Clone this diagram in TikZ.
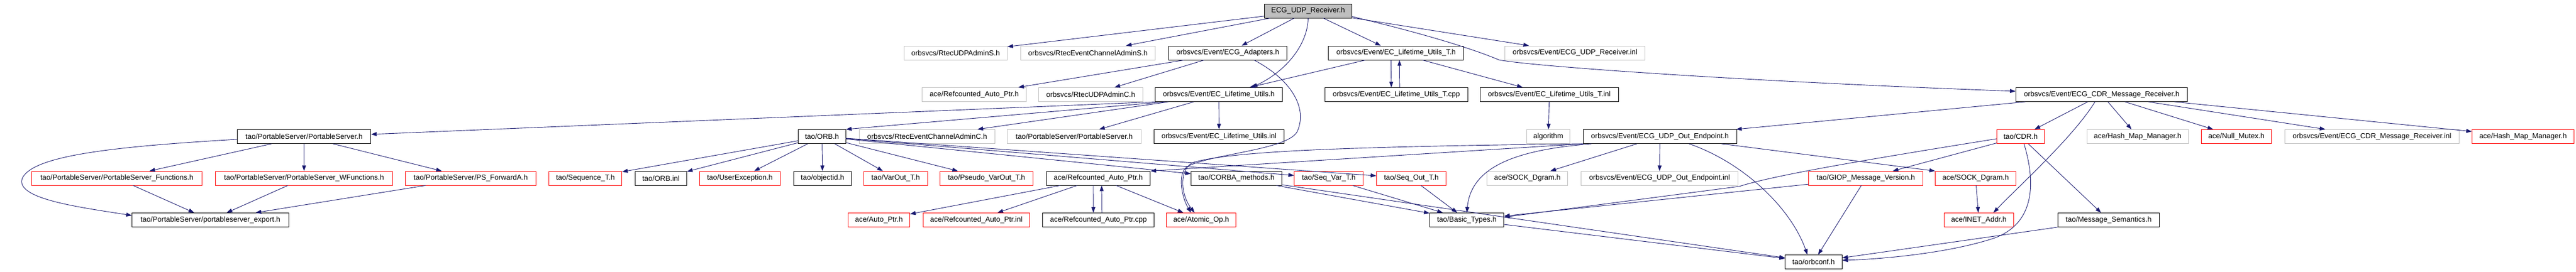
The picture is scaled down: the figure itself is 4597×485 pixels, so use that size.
\documentclass[tikz,border=0pt]{standalone}
\usepackage{fontspec}
\setmainfont{Liberation Sans}
\usetikzlibrary{arrows.meta}
\definecolor{edgeblue}{RGB}{25,25,112}
\definecolor{boxgray}{RGB}{191,191,191}
\tikzset{
  box/.style={rectangle, inner sep=0pt, minimum height=25pt, line width=0.9pt,
    font=\fontsize{13pt}{15pt}\selectfont, text=black},
  blkbox/.style={box, draw=black, fill=white},
  grybox/.style={box, draw=boxgray, fill=white},
  redbox/.style={box, draw=red, fill=white},
  rootbox/.style={box, draw=black, fill=boxgray},
  edge/.style={draw=edgeblue, line width=0.9pt, -{Triangle[length=10pt,width=7pt]}}
}
\newcommand\dnode[6]{\node[#2, minimum width=#5pt] (#1) at (#3,#4) {#6};}
\begin{document}
\begin{tikzpicture}[x=1pt,y=-1pt]
\useasboundingbox[fill=white] (0,0) rectangle (4597,485);
% row 0
\dnode{root}{rootbox}{2334.4}{19.5}{155.6}{ECG\_UDP\_Receiver.h}
% row 1
\dnode{udpS}{grybox}{1705.35}{94.5}{184.1}{orbsvcs/RtecUDPAdminS.h}
\dnode{ecS}{grybox}{1941.55}{94.5}{240.3}{orbsvcs/RtecEventChannelAdminS.h}
\dnode{adapters}{blkbox}{2191.05}{94.5}{210.7}{orbsvcs/Event/ECG\_Adapters.h}
\dnode{lutT}{blkbox}{2491.3}{94.5}{240.8}{orbsvcs/Event/EC\_Lifetime\_Utils\_T.h}
\dnode{rinl}{grybox}{2810.7}{94.5}{250}{orbsvcs/Event/ECG\_UDP\_Receiver.inl}
% row 2
\dnode{rapg}{grybox}{1738.5}{169}{186.2}{ace/Refcounted\_Auto\_Ptr.h}
\dnode{udpC}{grybox}{1946.45}{169}{185.7}{orbsvcs/RtecUDPAdminC.h}
\dnode{lut}{blkbox}{2175}{169}{226.6}{orbsvcs/Event/EC\_Lifetime\_Utils.h}
\dnode{lutTcpp}{blkbox}{2491.85}{169}{255.1}{orbsvcs/Event/EC\_Lifetime\_Utils\_T.cpp}
\dnode{lutTinl}{blkbox}{2764.8}{169}{247}{orbsvcs/Event/EC\_Lifetime\_Utils\_T.inl}
\dnode{cdrrecv}{blkbox}{3750.5}{169}{306.2}{orbsvcs/Event/ECG\_CDR\_Message\_Receiver.h}
% row 3
\dnode{ps}{blkbox}{542.6}{244}{238.2}{tao/PortableServer/PortableServer.h}
\dnode{orb}{blkbox}{1466.85}{244}{84.7}{tao/ORB.h}
\dnode{ecC}{grybox}{1654.55}{244}{242.1}{orbsvcs/RtecEventChannelAdminC.h}
\dnode{psg}{grybox}{1917.05}{244}{239.3}{tao/PortableServer/PortableServer.h}
\dnode{lutinl}{blkbox}{2175.5}{244}{231.6}{orbsvcs/Event/EC\_Lifetime\_Utils.inl}
\dnode{algo}{grybox}{2763}{244}{77}{algorithm}
\dnode{oep}{blkbox}{2962.25}{244}{273.5}{orbsvcs/Event/ECG\_UDP\_Out\_Endpoint.h}
\dnode{cdr}{redbox}{3605.9}{244}{85.2}{tao/CDR.h}
\dnode{hmmg}{grybox}{3814.75}{244}{181.5}{ace/Hash\_Map\_Manager.h}
\dnode{nullm}{redbox}{3990.95}{244}{124.9}{ace/Null\_Mutex.h}
\dnode{cdrinl}{grybox}{4232.95}{244}{311.1}{orbsvcs/Event/ECG\_CDR\_Message\_Receiver.inl}
\dnode{hmmr}{redbox}{4502.5}{244}{181.8}{ace/Hash\_Map\_Manager.h}
% row 4
\dnode{psf}{redbox}{208.65}{318.5}{304.1}{tao/PortableServer/PortableServer\_Functions.h}
\dnode{psw}{redbox}{542.6}{318.5}{315.8}{tao/PortableServer/PortableServer\_WFunctions.h}
\dnode{psfa}{redbox}{840.05}{318.5}{233.1}{tao/PortableServer/PS\_ForwardA.h}
\dnode{seqT}{redbox}{1044.65}{318.5}{130.1}{tao/Sequence\_T.h}
\dnode{orbinl}{blkbox}{1179.6}{318.5}{91.8}{tao/ORB.inl}
\dnode{uexc}{redbox}{1320.4}{318.5}{143.8}{tao/UserException.h}
\dnode{oid}{blkbox}{1467.85}{318.5}{103.1}{tao/objectid.h}
\dnode{varout}{redbox}{1598.4}{318.5}{114.2}{tao/VarOut\_T.h}
\dnode{pvarout}{redbox}{1760.45}{318.5}{165.9}{tao/Pseudo\_VarOut\_T.h}
\dnode{rap}{blkbox}{1959.95}{318.5}{185.3}{ace/Refcounted\_Auto\_Ptr.h}
\dnode{corba}{blkbox}{2206.35}{318.5}{161.7}{tao/CORBA\_methods.h}
\dnode{seqvar}{redbox}{2371.2}{318.5}{123}{tao/Seq\_Var\_T.h}
\dnode{seqout}{redbox}{2518.6}{318.5}{124}{tao/Seq\_Out\_T.h}
\dnode{sockg}{grybox}{2725.5}{318.5}{143.8}{ace/SOCK\_Dgram.h}
\dnode{oepinl}{grybox}{2961.45}{318.5}{280.1}{orbsvcs/Event/ECG\_UDP\_Out\_Endpoint.inl}
\dnode{giop}{redbox}{3329.6}{318.5}{204}{tao/GIOP\_Message\_Version.h}
\dnode{sockr}{redbox}{3525.5}{318.5}{143.8}{ace/SOCK\_Dgram.h}
% row 5
\dnode{pse}{blkbox}{375.5}{393}{279.6}{tao/PortableServer/portableserver\_export.h}
\dnode{autop}{redbox}{1568.4}{393}{110.2}{ace/Auto\_Ptr.h}
\dnode{rapinl}{redbox}{1742.35}{393}{189.9}{ace/Refcounted\_Auto\_Ptr.inl}
\dnode{rapcpp}{blkbox}{1960.2}{393}{199}{ace/Refcounted\_Auto\_Ptr.cpp}
\dnode{atomic}{redbox}{2143.6}{393}{124}{ace/Atomic\_Op.h}
\dnode{basic}{blkbox}{2617.6}{393}{132.2}{tao/Basic\_Types.h}
\dnode{inet}{redbox}{3531.4}{393}{124}{ace/INET\_Addr.h}
\dnode{msgsem}{blkbox}{3763}{393}{181.2}{tao/Message\_Semantics.h}
% row 6
\dnode{orbconf}{blkbox}{3236.45}{468}{101.5}{tao/orbconf.h}

% ---- edges from root
\draw[edge] (root) -- (udpS);
\draw[edge] (root) -- (ecS);
\draw[edge] (root) -- (adapters);
\draw[edge] (root) -- (lutT);
\draw[edge] (root) -- (rinl);
\draw[edge] (root.south) .. controls (2334,75) and (2300,125) .. ([xshift=59pt]lut.north);
\draw[edge] ([yshift=-10pt]root.east) .. controls (2540,60) and (2625,86) .. (2675,107)
  .. controls (2730,118) and (3100,145) .. ([yshift=6pt]cdrrecv.west);
% ---- ECG_Adapters
\draw[edge] (adapters) -- (rapg);
\draw[edge] (adapters) -- (udpC);
\draw[edge] ([xshift=47pt]adapters.south) .. controls (2300,140) and (2335,190) .. (2315,235)
  .. controls (2298,268) and (2160,275) .. (2118,298)
  .. controls (2100,312) and (2110,355) .. ([xshift=-18pt]atomic.north);
% ---- EC_Lifetime_Utils_T
\draw[edge] (lutT) -- (lut);
\draw[edge] ([xshift=-9pt]lutT.south) -- ([xshift=-9pt]lutTcpp.north);
\draw[edge] ([xshift=6pt]lutTcpp.north) -- ([xshift=6pt]lutT.south);
\draw[edge] (lutT) -- (lutTinl);
\draw[edge] (lutTinl) -- (algo);
% ---- EC_Lifetime_Utils
\draw[edge] ([xshift=18pt]lut.south west) -- (orb.north east);
\draw[edge] (lut.south west) -- ([yshift=4pt]ps.east);
\draw[edge] (lut) -- (ecC);
\draw[edge] (lut) -- (psg);
\draw[edge] (lut) -- (lutinl);
% ---- PortableServer
\draw[edge] (ps) -- (psf);
\draw[edge] (ps) -- (psw);
\draw[edge] (ps) -- (psfa);
\draw[edge] ([yshift=-5pt]ps.west) .. controls (200,262) and (60,278) .. (40,318)
  .. controls (25,355) and (140,370) .. ([yshift=8pt]pse.west);
\draw[edge] (psf) -- (pse);
\draw[edge] (psw) -- (pse);
\draw[edge] (psfa) -- (pse);
% ---- ORB
\draw[edge] (orb) -- (seqT);
\draw[edge] (orb) -- (orbinl);
\draw[edge] (orb) -- (uexc);
\draw[edge] (orb) -- (oid);
\draw[edge] (orb) -- (varout);
\draw[edge] (orb) -- (pvarout);
\draw[edge] (orb) -- (corba);
\draw[edge] (orb) -- (seqvar);
\draw[edge] (orb) -- (seqout);
% ---- Refcounted_Auto_Ptr
\draw[edge] (rap) -- (autop);
\draw[edge] (rap) -- (rapinl);
\draw[edge] ([xshift=-9pt]rap.south) -- ([xshift=-9pt]rapcpp.north);
\draw[edge] ([xshift=6pt]rapcpp.north) -- ([xshift=6pt]rap.south);
\draw[edge] (rap) -- (atomic);
% ---- basic types
\draw[edge] (corba) -- (basic);
\draw[edge] (corba) -- (orbconf);
\draw[edge] (seqvar) -- (basic);
\draw[edge] (seqout) -- (basic);
\draw[edge] (basic) -- (orbconf);
% ---- ECG_CDR_Message_Receiver
\draw[edge] (cdrrecv) -- (oep);
\draw[edge] (cdrrecv) -- (cdr);
\draw[edge] ([xshift=-12pt]cdrrecv.south) .. controls (3700,245) and (3600,335) .. ([xshift=26pt]inet.north);
\draw[edge] (cdrrecv) -- (hmmg);
\draw[edge] (cdrrecv) -- (nullm);
\draw[edge] (cdrrecv) -- (cdrinl);
\draw[edge] (cdrrecv) -- (hmmr);
% ---- ECG_UDP_Out_Endpoint
\draw[edge] (oep.south west) -- (rap.north east);
\draw[edge] (oep.south west) .. controls (2400,262) and (2200,270) .. (2130,290)
  .. controls (2105,300) and (2105,345) .. ([xshift=-12pt]atomic.north);
\draw[edge] ([xshift=15pt]oep.south west) .. controls (2700,268) and (2625,300) .. (basic.north);
\draw[edge] (oep) -- (sockg);
\draw[edge] (oep) -- (oepinl);
\draw[edge] ([xshift=52pt]oep.south) .. controls (3110,290) and (3195,370) .. ([xshift=-11pt]orbconf.north);
\draw[edge] ([xshift=110pt]oep.south) -- (sockr.north west);
% ---- CDR
\draw[edge] ([yshift=-4pt]cdr.west) .. controls (3300,290) and (3160,315) .. (3104,333) -- ([yshift=5pt]basic.east);
\draw[edge] (cdr) -- (giop);
\draw[edge] ([xshift=6pt]cdr.south) .. controls (3628,310) and (3640,395) .. (3560,425)
  .. controls (3480,452) and (3360,463) .. ([yshift=3pt]orbconf.east);
\draw[edge] (cdr) -- (msgsem);
\draw[edge] (giop) -- (basic);
\draw[edge] (giop) -- (orbconf);
\draw[edge] (sockr) -- (inet);
\draw[edge] (msgsem) -- (orbconf);
\end{tikzpicture}
\end{document}
